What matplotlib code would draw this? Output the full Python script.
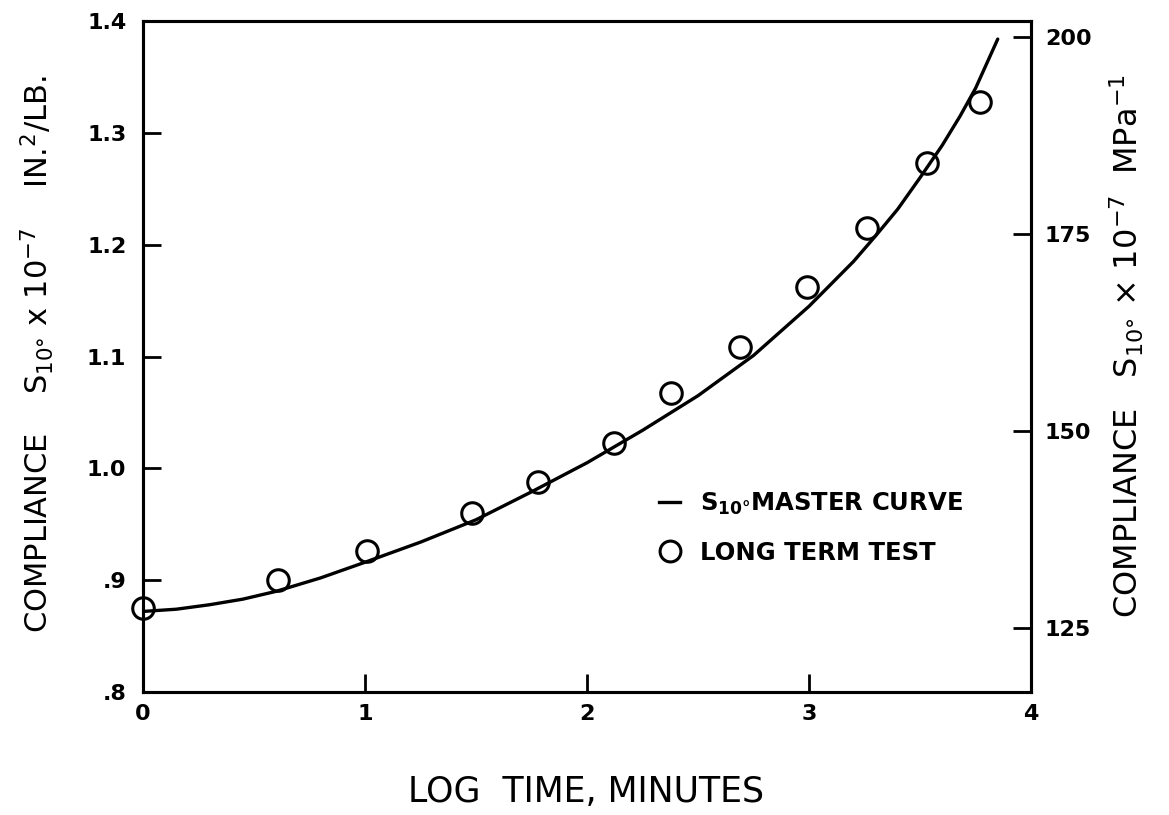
import matplotlib
matplotlib.use("Agg")
import matplotlib.pyplot as plt
from matplotlib.lines import Line2D

plt.rcParams['font.family'] = ['DejaVu Sans']
plt.rcParams['mathtext.default'] = 'regular'

# Long term creep test (log minutes vs compliance, 1e-7 in^2/lb)
test_logt = [0.0, 0.61, 1.01, 1.48, 1.78, 2.12, 2.38, 2.69, 2.99, 3.26, 3.53, 3.77]
test_comp = [0.875, 0.900, 0.926, 0.960, 0.988, 1.023, 1.067, 1.109, 1.162, 1.215, 1.273, 1.328]

# S10 master curve
curve_logt = [0.0, 0.15, 0.3, 0.45, 0.6, 0.8, 1.0, 1.25, 1.5, 1.75, 2.0, 2.25,
              2.5, 2.75, 3.0, 3.1, 3.2, 3.3, 3.4, 3.5, 3.6, 3.68, 3.75, 3.85]
curve_comp = [0.872, 0.874, 0.878, 0.883, 0.890, 0.902, 0.916, 0.934, 0.954,
              0.979, 1.005, 1.034, 1.065, 1.101, 1.145, 1.165, 1.185, 1.208,
              1.232, 1.260, 1.289, 1.315, 1.340, 1.384]

x_ticks = [0, 1, 2, 3, 4]
x_ticklabels = ["0", "1", "2", "3", "4"]
left_ticks = [0.8, 0.9, 1.0, 1.1, 1.2, 1.3, 1.4]
left_ticklabels = [".8", ".9", "1.0", "1.1", "1.2", "1.3", "1.4"]
right_ticks = [125, 150, 175, 200]
right_ticklabels = ["125", "150", "175", "200"]

fig = plt.figure(figsize=(11.69, 8.15), dpi=100)
ax = fig.add_axes([0.1223, 0.151, 0.7597, 0.823])

line, = ax.plot(curve_logt, curve_comp, color='black', lw=2.4,
                solid_capstyle='round', solid_joinstyle='round')
pts, = ax.plot(test_logt, test_comp, linestyle='none', marker='o', markersize=15.5,
               markerfacecolor='none', markeredgecolor='black', markeredgewidth=2.2,
               clip_on=False)

ax.set_xlim(0, 4)
ax.set_ylim(0.8, 1.4)
ax.set_xticks(x_ticks)
ax.set_xticklabels(x_ticklabels)
ax.set_yticks(left_ticks)
ax.set_yticklabels(left_ticklabels)

for s in ax.spines.values():
    s.set_linewidth(2.2)

ax.tick_params(axis='both', direction='in', length=13, width=2, labelsize=16)
ax.tick_params(axis='x', pad=9)
ax.tick_params(axis='y', pad=12)
for lab in ax.get_xticklabels() + ax.get_yticklabels():
    lab.set_fontweight('bold')

ax2 = ax.twinx()
ax2.set_ylim(116.9, 202.0)
ax2.set_yticks(right_ticks)
ax2.set_yticklabels(right_ticklabels)
ax2.tick_params(axis='y', direction='in', length=13, width=2, labelsize=16, pad=10)
for lab in ax2.get_yticklabels():
    lab.set_fontweight('bold')
for s in ax2.spines.values():
    s.set_linewidth(2.2)

fig.text(0.032, 0.565,
         r"COMPLIANCE    S$_{10°}$ x 10$^{-7}$    IN.$^{2}$/LB.",
         rotation=90, ha='center', va='center', fontsize=22)
fig.text(0.964, 0.575,
         r"COMPLIANCE   S$_{10°}$ × 10$^{-7}$  MPa$^{-1}$",
         rotation=90, ha='center', va='center', fontsize=23)
fig.text(0.501, 0.028, "LOG  TIME, MINUTES", ha='center', va='center',
         fontsize=25)

leg = ax.legend([Line2D([0], [0], color='black', lw=2.4),
                 Line2D([0], [0], linestyle='none', marker='o', markersize=15,
                        markerfacecolor='none', markeredgecolor='black',
                        markeredgewidth=2.2)],
                [r"S$_{10°}$MASTER CURVE", "LONG TERM TEST"],
                loc='center left', bbox_to_anchor=(0.556, 0.245), frameon=False,
                handlelength=0.9, handletextpad=0.8, labelspacing=1.0,
                prop=dict(size=17.5, weight='bold'))

fig.savefig("out.png", dpi=100)
